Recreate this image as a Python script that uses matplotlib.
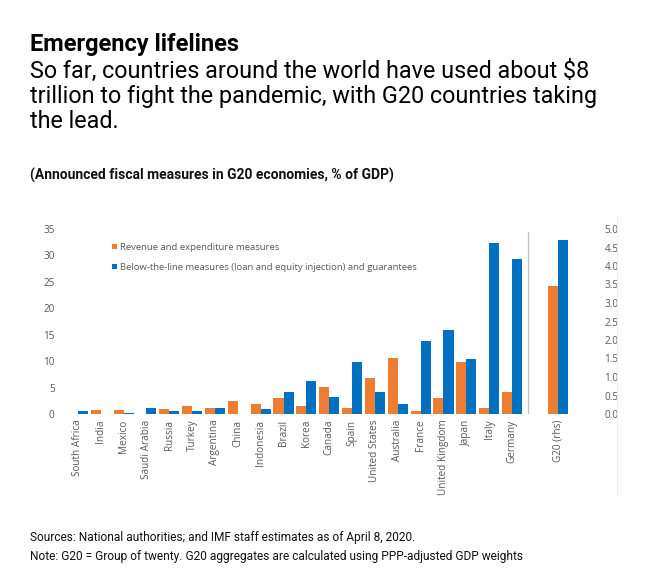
import matplotlib
matplotlib.use('Agg')
import matplotlib.pyplot as plt
from matplotlib.lines import Line2D
import numpy as np

countries = ['South Africa', 'India', 'Mexico', 'Saudi Arabia', 'Russia', 'Turkey',
             'Argentina', 'China', 'Indonesia', 'Brazil', 'Korea', 'Canada', 'Spain',
             'United States', 'Australia', 'France', 'United Kingdom', 'Japan', 'Italy',
             'Germany']
revenue = [0.0, 0.8, 0.8, 0.0, 0.9, 1.6, 1.2, 2.5, 1.8, 3.0, 1.6, 5.1, 1.2,
           6.9, 10.6, 0.6, 3.1, 9.9, 1.2, 4.2]
below_line = [0.6, 0.0, 0.2, 1.2, 0.6, 0.5, 1.2, 0.0, 0.9, 4.1, 6.3, 3.2, 9.8,
              4.1, 1.9, 13.9, 15.8, 10.5, 32.3, 29.4]
g20_label = 'G20 (rhs)'
g20_revenue = 3.45
g20_below = 4.7

orange = '#ED7D31'
blue = '#0070C0'
gray = '#595959'
narrow = ['Liberation Sans Narrow', 'Roboto']

fig = plt.figure(figsize=(6.47, 5.78), dpi=100)

# header text
fig.text(30/647, 1 - 51/578, 'Emergency lifelines', fontsize=17, fontweight='bold',
         family='Roboto', color='black')
fig.text(30/647, 1 - 128/578,
         'So far, countries around the world have used about $8\n'
         'trillion to fight the pandemic, with G20 countries taking\n'
         'the lead.', fontsize=16.8, family='Roboto', color='black', linespacing=1.12)
fig.text(30/647, 1 - 180/578, '(Announced fiscal measures in G20 economies, % of GDP)',
         fontsize=10, fontweight='bold', family=narrow, color='#111111')

ax = fig.add_axes([63/647, 1 - 414/578, 529/647, 185/578])
ax2 = ax.twinx()

x = np.arange(len(countries))
w = 0.44
ax.bar(x - w/2, revenue, w, color=orange, label='Revenue and expenditure measures')
ax.bar(x + w/2, below_line, w, color=blue,
       label='Below-the-line measures (loan and equity injection) and guarantees')

gx = len(countries) + 1
ax2.bar(gx - w/2, g20_revenue, w, color=orange)
ax2.bar(gx + w/2, g20_below, w, color=blue)

ax.set_xlim(-0.65, 22.5)
ax.set_ylim(0, 35)
ax2.set_ylim(0, 5)
ax.set_yticks(np.arange(0, 36, 5))
ax2.set_yticks(np.arange(0, 5.01, 0.5))
ax2.set_yticklabels(['%.1f' % v for v in np.arange(0, 5.01, 0.5)])

ax.set_xticks(list(x) + [gx])
ax.set_xticklabels(countries + [g20_label], rotation=90)

for a in (ax, ax2):
    for s in a.spines.values():
        s.set_visible(False)
    a.tick_params(length=0, labelsize=7.2, labelcolor=gray)
    for lab in a.get_xticklabels() + a.get_yticklabels():
        lab.set_family('Open Sans')
ax.tick_params(axis='x', pad=4)
ax.tick_params(axis='y', pad=6)
ax2.tick_params(axis='y', pad=9)

ax.axhline(0, color='#d9d9d9', lw=0.8, zorder=0)
ax.axvline(len(countries) - 0.3, ymax=0.985, color='#bfbfbf', lw=0.9)

leg = ax.legend(loc='upper left', bbox_to_anchor=(0.085, 0.945), frameon=False,
                fontsize=6.8, handlelength=0.55, handleheight=0.55, handletextpad=0.35,
                labelspacing=1.15, borderaxespad=0)
for t in leg.get_texts():
    t.set_color(gray)
    t.set_family('Open Sans')

# faint chart-area edge
fig.add_artist(Line2D([617/647, 617/647], [1 - 495/578, 1 - 215/578], color='#ececec', lw=0.8))

fig.text(30/647, 1 - 541/578,
         'Sources: National authorities; and IMF staff estimates as of April 8, 2020.',
         fontsize=8.6, family=narrow, color='#111111')
fig.text(30/647, 1 - 560/578,
         'Note: G20 = Group of twenty. G20 aggregates are calculated using PPP-adjusted GDP weights',
         fontsize=8.6, family=narrow, color='#111111')

fig.savefig('out.png', dpi=100, facecolor='white')
